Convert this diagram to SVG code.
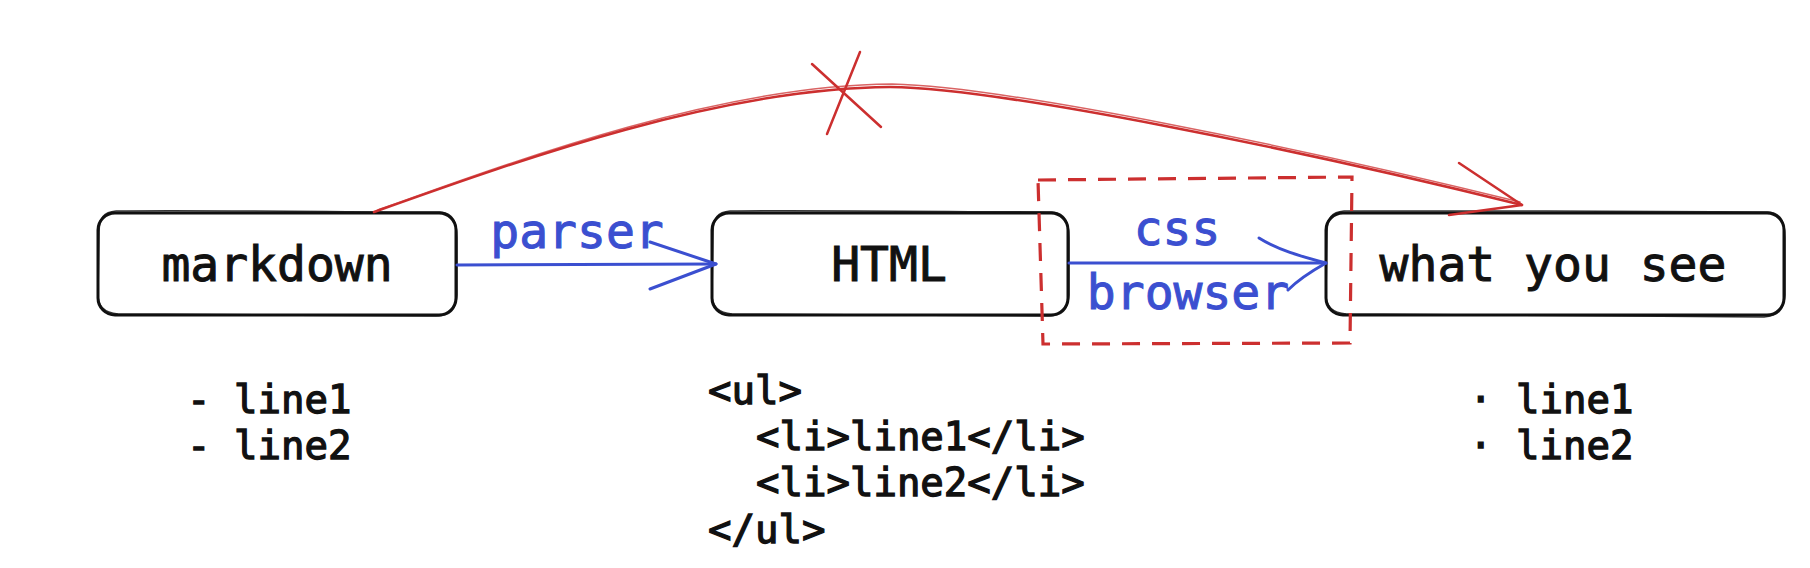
<svg xmlns="http://www.w3.org/2000/svg" width="1810" height="568" viewBox="0 0 1810 568">
  <style>
    .box { fill: #ffffff; stroke: #111111; stroke-width: 3; }
    .sk { fill: none; stroke: #111111; stroke-width: 1.6; opacity: 0.85; }
    .lbl { font-family: "DejaVu Sans Mono", "Liberation Mono", monospace; font-size: 48px; fill: #111111; stroke: #111111; stroke-width: 1; text-anchor: middle; }
    .blue { font-family: "DejaVu Sans Mono", "Liberation Mono", monospace; font-size: 48px; fill: #3b4fd0; stroke: #3b4fd0; stroke-width: 1; text-anchor: middle; }
    .note { font-family: "DejaVu Sans Mono", "Liberation Mono", monospace; font-size: 39px; fill: #111111; stroke: #111111; stroke-width: 1.3; }
    .bl { fill: none; stroke: #3b4fd0; stroke-width: 3; stroke-linecap: round; stroke-linejoin: round; }
    .red { fill: none; stroke: #cc2f2f; stroke-width: 2.5; stroke-linecap: round; stroke-linejoin: round; }
    .red2 { fill: none; stroke: #cc2f2f; stroke-width: 1.5; stroke-linecap: round; opacity: 0.75; }
    .dash { fill: none; stroke: #cc2f2f; stroke-width: 3.2; stroke-dasharray: 18 12; }
  </style>

  <g id="node-markdown">
    <rect class="box" x="98" y="213" width="358" height="102" rx="17"/>
    <path class="sk" d="M116,211 C200,210 360,212 440,212 C453,213 457,222 457,238 L457,295 C456,310 450,316 436,316 L118,314 C104,313 97,306 98,292 L99,232 C99,218 104,212 116,211"/>
    <text class="lbl" x="277" y="281">markdown</text>
  </g>

  <g id="node-html">
    <rect class="box" x="712" y="213" width="356" height="102" rx="17"/>
    <path class="sk" d="M730,211 C820,210 980,212 1052,212 C1065,213 1069,222 1069,238 L1069,295 C1068,310 1062,316 1048,316 L732,314 C718,313 711,306 712,292 L713,232 C713,218 718,212 730,211"/>
    <text class="lbl" x="889" y="281">HTML</text>
  </g>

  <g id="node-what-you-see">
    <rect class="box" x="1326" y="213" width="458" height="102" rx="17"/>
    <path class="sk" d="M1344,211 C1450,210 1680,212 1768,212 C1781,213 1785,222 1785,238 L1785,295 C1784,310 1778,316 1764,317 L1346,314 C1332,313 1325,306 1326,292 L1327,232 C1327,218 1332,212 1344,211"/>
    <text class="lbl" x="1553" y="281">what you see</text>
  </g>

  <g id="frame-browser">
    <path class="dash" d="M1038,180 L1352,177 L1350,343 L1043,344 Z"/>
  </g>

  <g id="connectors">
    <!-- parser arrow -->
    <path class="bl" d="M457,265 L716,264"/>
    <path class="bl" d="M650,242 L716,264 L650,289"/>
    <text class="blue" x="577" y="248">parser</text>

    <!-- css / browser arrow -->
    <path class="bl" d="M1069,263 L1326,263"/>
    <path class="bl" d="M1259,238 C1278,250 1300,256 1326,263 C1310,272 1298,280 1288,290"/>
    <text class="blue" x="1177" y="245">css</text>
    <text class="blue" x="1188" y="309">browser</text>

    <!-- crossed-out direct arrow -->
    <path class="red" d="M374,212 C520,160 720,88 890,87 C1000,88 1300,150 1522,205"/>
    <path class="red2" d="M378,210 C522,158 722,85 892,84 C1002,86 1302,148 1520,202"/>
    <path class="red" d="M1459,163 L1522,205 L1449,215"/>
    <path class="red" d="M860,52 L827,134"/>
    <path class="red" d="M812,64 L881,127"/>
  </g>

  <g id="notes">
    <text class="note" x="187" y="413">- line1</text>
    <text class="note" x="187" y="459">- line2</text>
    <text class="note" x="708" y="404">&lt;ul&gt;</text>
    <text class="note" x="756" y="450">&lt;li&gt;line1&lt;/li&gt;</text>
    <text class="note" x="756" y="496">&lt;li&gt;line2&lt;/li&gt;</text>
    <text class="note" x="708" y="543">&lt;/ul&gt;</text>
    <text class="note" x="1469" y="413">· line1</text>
    <text class="note" x="1469" y="459">· line2</text>
  </g>
</svg>
